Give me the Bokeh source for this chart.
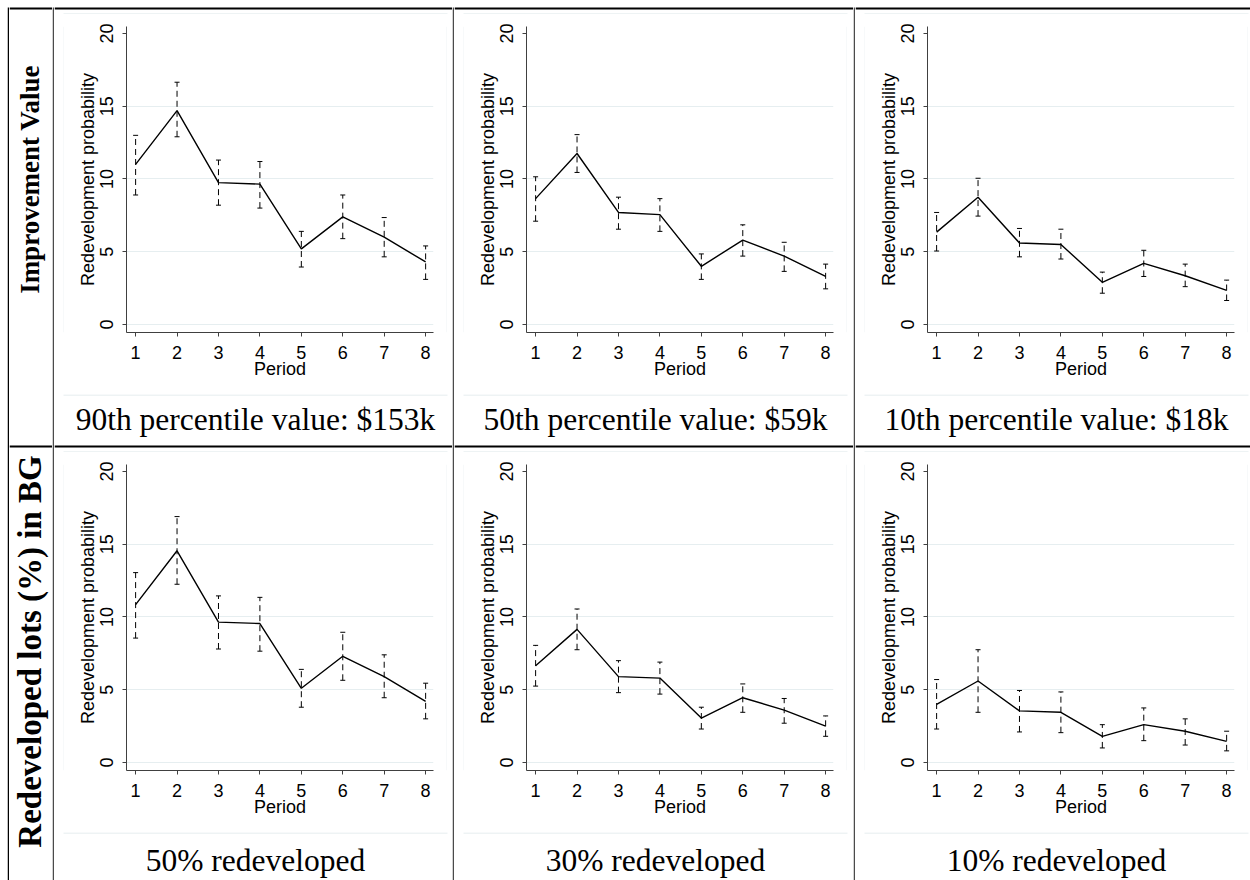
import math
from bokeh.plotting import figure
from bokeh.layouts import row, column
from bokeh.models import Range1d, Whisker, TeeHead, ColumnDataSource, FixedTicker
from bokeh.embed import file_html
from bokeh.resources import INLINE
from bokeh.core.properties import value

# ---------------- data ----------------
periods = [1, 2, 3, 4, 5, 6, 7, 8]
y_ticks = [0, 5, 10, 15, 20]
row_labels = ["Improvement Value", "Redeveloped lots (%) in BG"]
captions_top = ["90th percentile value: $153k", "50th percentile value: $59k", "10th percentile value: $18k"]
captions_bottom = ["50% redeveloped", "30% redeveloped", "10% redeveloped"]
y_label = "Redevelopment probability"
x_label = "Period"

iv90_est = [11.0, 14.7, 9.75, 9.65, 5.2, 7.4, 6.0, 4.3]
iv90_lo = [8.9, 12.9, 8.2, 8.0, 3.95, 5.9, 4.65, 3.1]
iv90_hi = [13.0, 16.65, 11.3, 11.2, 6.4, 8.9, 7.35, 5.4]

iv50_est = [8.65, 11.75, 7.7, 7.55, 4.0, 5.8, 4.7, 3.3]
iv50_lo = [7.1, 10.45, 6.55, 6.4, 3.1, 4.7, 3.65, 2.45]
iv50_hi = [10.15, 13.05, 8.75, 8.65, 4.85, 6.85, 5.65, 4.15]

iv10_est = [6.35, 8.75, 5.6, 5.5, 2.9, 4.2, 3.35, 2.35]
iv10_lo = [5.05, 7.45, 4.65, 4.5, 2.15, 3.3, 2.6, 1.65]
iv10_hi = [7.7, 10.05, 6.6, 6.55, 3.6, 5.1, 4.15, 3.05]

rd50_est = [10.85, 14.55, 9.65, 9.55, 5.1, 7.3, 5.9, 4.2]
rd50_lo = [8.55, 12.25, 7.8, 7.65, 3.8, 5.65, 4.45, 3.0]
rd50_hi = [13.05, 16.9, 11.45, 11.35, 6.4, 8.95, 7.4, 5.45]

rd30_est = [6.65, 9.15, 5.9, 5.8, 3.05, 4.45, 3.6, 2.5]
rd30_lo = [5.25, 7.75, 4.8, 4.7, 2.3, 3.45, 2.7, 1.8]
rd30_hi = [8.05, 10.55, 7.0, 6.9, 3.8, 5.4, 4.4, 3.2]

rd10_est = [4.0, 5.6, 3.55, 3.45, 1.8, 2.6, 2.15, 1.45]
rd10_lo = [2.3, 3.45, 2.1, 2.05, 1.0, 1.5, 1.2, 0.8]
rd10_hi = [5.7, 7.75, 4.95, 4.85, 2.6, 3.75, 3.0, 2.15]

# ---------------- styling ----------------
SANS = "Liberation Sans"
SERIF = "Liberation Serif"
LIGHT = "#dde7ea"
GRID = "#e6eef0"
DIV = "#4a4a4a"
AXIS = "#404040"
H = 880


def canvas(w, h):
    """Blank white drawing surface whose data units are pixels (y downwards)."""
    f = figure(width=w, height=h, x_axis_type=None, y_axis_type=None, title=None,
               toolbar_location=None, output_backend="svg", min_border=0,
               x_range=Range1d(0, w), y_range=Range1d(h, 0))
    f.background_fill_color = "white"
    f.border_fill_color = "white"
    f.outline_line_color = None
    return f


def band(f, x0, x1, y0, y1, color):
    f.quad(left=[x0], right=[x1], top=[y0], bottom=[y1], fill_color=color, line_color=None)


def caption(f, text, xc, yc, size, style="normal", angle=0.0):
    f.text(x=[xc], y=[yc], text=[text], angle=angle,
           text_font=value(SERIF), text_font_size=size, text_font_style=style,
           text_align="center", text_baseline="middle", text_color="black")


def panel(est, lo, hi):
    p = figure(width=382, height=380, title=None, toolbar_location=None, output_backend="svg",
               x_range=Range1d(0.78, 8.19), y_range=Range1d(-0.55, 20.48),
               min_border_left=62, min_border_right=13, min_border_top=12, min_border_bottom=62)
    p.outline_line_color = None
    p.background_fill_color = "white"
    p.border_fill_color = "white"
    p.xgrid.visible = False
    p.ygrid.ticker = FixedTicker(ticks=y_ticks[:-1])
    p.ygrid.grid_line_color = GRID
    p.ygrid.grid_line_width = 1

    src = ColumnDataSource(dict(x=periods, y=est, lo=lo, hi=hi))
    p.add_layout(Whisker(source=src, base="x", lower="lo", upper="hi",
                         line_color="black", line_width=1, line_dash="6 4",
                         upper_head=TeeHead(size=5, line_color="black", line_width=1),
                         lower_head=TeeHead(size=5, line_color="black", line_width=1)))
    p.line("x", "y", source=src, line_color="black", line_width=1.4)

    p.xaxis.ticker = FixedTicker(ticks=periods)
    p.yaxis.ticker = FixedTicker(ticks=y_ticks)
    p.xaxis.axis_label = x_label
    p.yaxis.axis_label = y_label
    for ax in (p.xaxis[0], p.yaxis[0]):
        ax.axis_line_color = AXIS
        ax.axis_line_width = 1
        ax.major_tick_line_color = AXIS
        ax.major_tick_out = 4
        ax.major_tick_in = 0
        ax.minor_tick_line_color = None
        ax.major_label_text_font = SANS
        ax.major_label_text_font_size = "18px"
        ax.major_label_text_color = "black"
        ax.axis_label_text_font = SANS
        ax.axis_label_text_font_size = "18px"
        ax.axis_label_text_font_style = "normal"
        ax.axis_label_text_color = "black"
    p.yaxis.major_label_orientation = "vertical"
    p.xaxis.major_label_standoff = 9
    p.xaxis.axis_label_standoff = -3
    p.yaxis.major_label_standoff = 9
    p.yaxis.axis_label_standoff = 0
    return p


def vstrip(w, color, y0=7):
    f = canvas(w, H)
    band(f, 0, w, y0, H, color)
    return f


def vstrip_small(color):
    f = canvas(1, 380)
    band(f, 0, 1, 0, 380, color)
    return f


def panel_row(cw, d):
    side = canvas(cw - 393, 380)
    return row(canvas(9, 380), vstrip_small(LIGHT), panel(*d), vstrip_small(LIGHT), side)


def cell_strip(cw, d_top, d_bot, cap_top, cap_bot):
    cx = 9 + 192
    # top: y 0..14
    top = canvas(cw, 14)
    band(top, 0, cw, 7, 9, "black")
    band(top, 9, 393, 13, 14, LIGHT)
    # middle: y 394..452
    mid = canvas(cw, 58)
    band(mid, 9, 393, 0, 1, LIGHT)
    caption(mid, cap_top, cx, 25, "31.5px")
    band(mid, 0, cw, 51, 53, "black")
    band(mid, 9, 393, 57, 58, LIGHT)
    # bottom: y 832..880
    bot = canvas(cw, 48)
    band(bot, 9, 393, 0, 1, LIGHT)
    caption(bot, cap_bot, cx, 28, "31.5px")
    return column(top, panel_row(cw, d_top), mid, panel_row(cw, d_bot), bot)


CW = [398, 399, 395]
data_top = [(iv90_est, iv90_lo, iv90_hi), (iv50_est, iv50_lo, iv50_hi), (iv10_est, iv10_lo, iv10_hi)]
data_bot = [(rd50_est, rd50_lo, rd50_hi), (rd30_est, rd30_lo, rd30_hi), (rd10_est, rd10_lo, rd10_hi)]

# left label column (x 9..52)
lab = canvas(43, H)
band(lab, 0, 43, 7, 9, "black")
band(lab, 0, 43, 445, 447, "black")
caption(lab, row_labels[0], 20, 179, "27px", style="bold", angle=math.pi / 2)
caption(lab, row_labels[1], 20, 651, "33px", style="bold", angle=math.pi / 2)

strips = [canvas(7, H), vstrip(2, "black"), lab]
for cw, dt, db, ct, cb in zip(CW, data_top, data_bot, captions_top, captions_bottom):
    strips.append(vstrip(2, DIV))
    strips.append(cell_strip(cw, dt, db, ct, cb))

layout = row(*strips)

with open("out.html", "w") as fh:
    fh.write(file_html(layout, INLINE))
